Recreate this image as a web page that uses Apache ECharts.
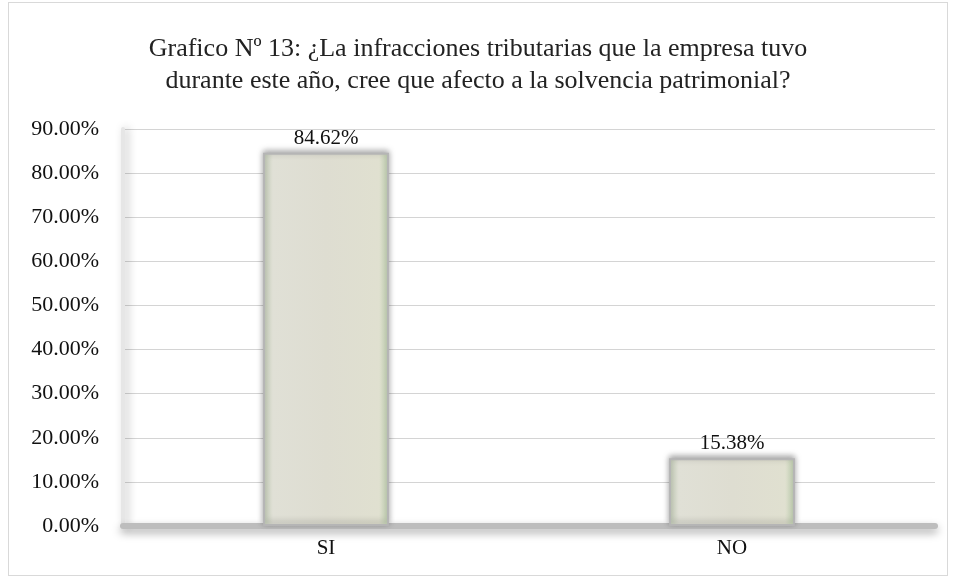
<!DOCTYPE html>
<html>
<head>
<meta charset="utf-8">
<script src="https://cdn.jsdelivr.net/npm/echarts@6/dist/echarts.min.js"></script>
<style>
  html, body { margin: 0; padding: 0; background: #fff; }
  #chart { width: 956px; height: 577px; }
  .frame { position: absolute; left: 8px; top: 2px; width: 938px; height: 572px; border: 1px solid #d9d9d9; pointer-events: none; }
</style>
</head>
<body>
<div id="chart"></div>
<div class="frame"></div>
<script>
// datos del gráfico
const titleText = "Grafico Nº 13: ¿La infracciones tributarias que la empresa tuvo\ndurante este año, cree que afecto a la solvencia patrimonial?";
const categories = ["SI", "NO"];
const values = [84.62, 15.38];

const chart = echarts.init(document.getElementById("chart"));

const option = {
  textStyle: { fontFamily: "Liberation Serif" },
  title: {
    text: titleText,
    left: "center",
    top: 28,
    textStyle: {
      fontFamily: "Liberation Serif",
      fontSize: 26,
      fontWeight: "normal",
      color: "#222",
      lineHeight: 32
    }
  },
  grid: { left: 123, right: 21, top: 129, bottom: 51 },
  xAxis: {
    type: "category",
    data: categories,
    axisTick: { show: false },
    axisLine: {
      lineStyle: {
        color: "#bdbdbd",
        width: 6,
        shadowColor: "rgba(0,0,0,0.35)",
        shadowBlur: 8,
        shadowOffsetY: 4
      }
    },
    axisLabel: { fontFamily: "Liberation Serif", fontSize: 21, color: "#111", margin: 12 }
  },
  yAxis: {
    type: "value",
    min: 0,
    max: 90,
    interval: 10,
    axisLine: {
      show: true,
      lineStyle: {
        color: "#e6e6e6",
        width: 4,
        shadowColor: "rgba(0,0,0,0.25)",
        shadowBlur: 8,
        shadowOffsetX: 3
      }
    },
    axisLabel: {
      fontFamily: "Liberation Serif",
      fontSize: 22,
      color: "#111",
      margin: 24,
      formatter: (v) => v.toFixed(2) + "%"
    },
    splitLine: { lineStyle: { color: "#d4d4d4", width: 1 } }
  },
  series: [
    {
      type: "bar",
      data: values,
      barWidth: "31%",
      itemStyle: {
        color: new echarts.graphic.LinearGradient(0, 0, 1, 0, [
          { offset: 0, color: "#c9d3bd" },
          { offset: 0.08, color: "#e0e0d6" },
          { offset: 0.5, color: "#deddd1" },
          { offset: 0.92, color: "#e0e0d0" },
          { offset: 1, color: "#c6d8b6" }
        ]),
        borderColor: "#b5b5b5",
        borderWidth: 2,
        shadowColor: "rgba(0,0,0,0.35)",
        shadowBlur: 6,
        shadowOffsetY: -2
      },
      label: {
        show: true,
        position: "top",
        distance: 4,
        fontFamily: "Liberation Serif",
        fontSize: 21,
        color: "#111",
        formatter: (p) => p.value.toFixed(2) + "%"
      }
    }
  ]
};

chart.setOption(option);
</script>
</body>
</html>
